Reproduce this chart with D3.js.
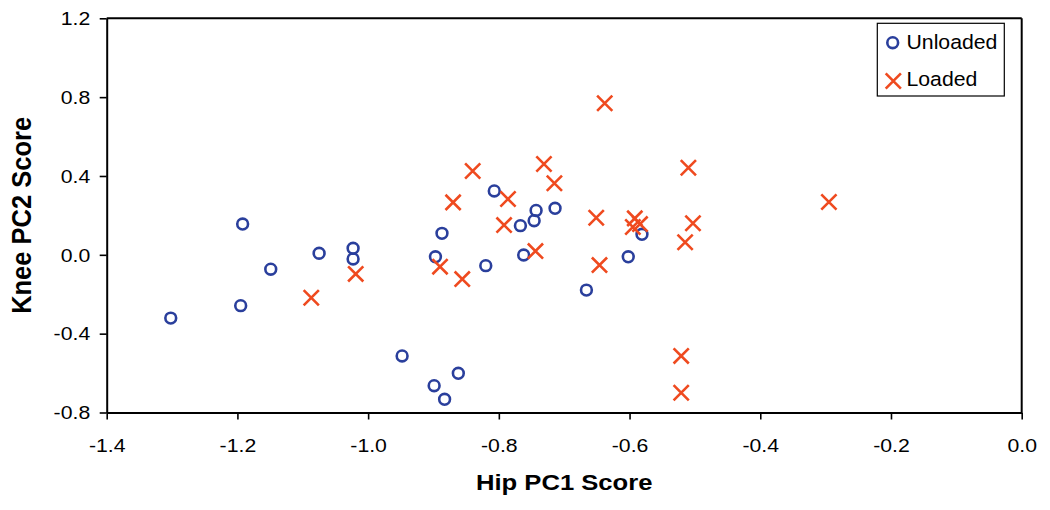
<!DOCTYPE html>
<html>
<head>
<meta charset="utf-8">
<script src="https://cdn.jsdelivr.net/npm/d3@7"></script>
<style>
  html, body { margin: 0; padding: 0; background: #fff; }
  svg text { font-family: "Liberation Sans", Arial, Helvetica, sans-serif; fill: #000; }
</style>
</head>
<body>
<svg id="chart" width="1050" height="510"></svg>
<script>
// ---- Data ----
const unloadedX = [-1.302, -1.195, -1.192, -1.149, -1.075, -1.023, -1.023, -0.948, -0.899, -0.883, -0.862, -0.897, -0.887, -0.820, -0.807, -0.767, -0.762, -0.746, -0.743, -0.714, -0.666, -0.602, -0.581];
const unloadedY = [-0.321, -0.258, 0.156, -0.073, 0.008, 0.033, -0.021, -0.513, -0.664, -0.733, -0.601, -0.010, 0.109, -0.055, 0.324, 0.148, -0.001, 0.173, 0.225, 0.236, -0.179, -0.010, 0.104];
const loadedX = [-1.087, -1.019, -0.890, -0.856, -0.744, -0.646, -0.521, -0.521, -0.638, -0.840, -0.731, -0.715, -0.510, -0.870, -0.786, -0.792, -0.651, -0.592, -0.584, -0.595, -0.503, -0.515, -0.295];
const loadedY = [-0.218, -0.097, -0.060, -0.123, 0.019, -0.052, -0.513, -0.700, 0.769, 0.425, 0.461, 0.363, 0.442, 0.266, 0.283, 0.151, 0.188, 0.185, 0.156, 0.141, 0.160, 0.064, 0.268];
const xTicks = [-1.4, -1.2, -1.0, -0.8, -0.6, -0.4, -0.2, 0.0];
const yTicks = [-0.8, -0.4, 0.0, 0.4, 0.8, 1.2];
const seriesNames = ["Unloaded", "Loaded"];
const xTitle = "Hip PC1 Score";
const yTitle = "Knee PC2 Score";

// ---- Layout ----
const margin = { left: 106.7, top: 18.3, right: 1050 - 1021.7, bottom: 510 - 412.5 };
const W = 1050 - margin.left - margin.right;
const H = 510 - margin.top - margin.bottom;
const blue = "#2a3f9c";
const red = "#ef4a1f";
const stretch = 1.18;

const svg = d3.select("#chart");
const g = svg.append("g").attr("transform", `translate(${margin.left},${margin.top})`);

const x = d3.scaleLinear().domain([-1.4, 0.0]).range([0, W]);
const y = d3.scaleLinear().domain([-0.8, 1.2]).range([H, 0]);

// frame (top & right lines)
g.append("line").attr("x1", 0).attr("x2", W).attr("y1", 0).attr("y2", 0)
  .attr("stroke", "#000").attr("stroke-width", 2);
g.append("line").attr("x1", W).attr("x2", W).attr("y1", 0).attr("y2", H)
  .attr("stroke", "#000").attr("stroke-width", 2);

// axes
const xAxis = g.append("g").attr("transform", `translate(0,${H})`)
  .call(d3.axisBottom(x).tickValues(xTicks).tickSize(7).tickSizeOuter(0).tickFormat(d3.format(".1f")));
const yAxis = g.append("g")
  .call(d3.axisLeft(y).tickValues(yTicks).tickSize(7).tickSizeOuter(0).tickFormat(d3.format(".1f")));

[xAxis, yAxis].forEach(a => {
  a.select(".domain").attr("stroke", "#000").attr("stroke-width", 2);
  a.selectAll(".tick line").attr("stroke", "#000").attr("stroke-width", 1.6);
  a.selectAll(".tick text").attr("font-size", 18).attr("fill", "#000")
    .style("font-family", '"Liberation Sans", Arial, sans-serif');
});
// minus sign as hyphen like original and horizontal stretch
xAxis.selectAll(".tick text")
  .text(d => d3.format(".1f")(d).replace("−", "-"))
  .attr("y", 0).attr("dy", 0)
  .attr("transform", `translate(0,39.5) scale(${stretch},1)`);
yAxis.selectAll(".tick text")
  .text(d => d3.format(".1f")(d).replace("−", "-"))
  .attr("x", 0).attr("dy", 0)
  .attr("transform", `translate(-16.5,6.3) scale(${stretch},1)`);

// axis titles
svg.append("text")
  .attr("transform", `translate(${margin.left + W / 2},490) scale(1.15,1)`)
  .attr("text-anchor", "middle").attr("font-weight", "bold").attr("font-size", 22.3)
  .text(xTitle);
svg.append("text")
  .attr("transform", `translate(31,${margin.top + H / 2}) scale(1.12,1) rotate(-90)`)
  .attr("text-anchor", "middle").attr("font-weight", "bold").attr("font-size", 25.5)
  .text(yTitle);

// points
const unloaded = unloadedX.map((v, i) => ({ x: v, y: unloadedY[i] }));
const loaded = loadedX.map((v, i) => ({ x: v, y: loadedY[i] }));

g.append("g").selectAll("circle").data(unloaded).join("circle")
  .attr("cx", d => x(d.x)).attr("cy", d => y(d.y)).attr("r", 5.4)
  .attr("fill", "none").attr("stroke", blue).attr("stroke-width", 2.6);

const s = 7.6;
const crossPath = `M${-s},${-s}L${s},${s}M${-s},${s}L${s},${-s}`;
g.append("g").selectAll("path").data(loaded).join("path")
  .attr("transform", d => `translate(${x(d.x)},${y(d.y)})`)
  .attr("d", crossPath)
  .attr("fill", "none").attr("stroke", red).attr("stroke-width", 2.6);

// legend
const lg = svg.append("g");
lg.append("rect").attr("x", 877.3).attr("y", 23.3).attr("width", 127).attr("height", 72.7)
  .attr("fill", "#fff").attr("stroke", "#000").attr("stroke-width", 1.2);
lg.append("circle").attr("cx", 892.7).attr("cy", 42.7).attr("r", 5.4)
  .attr("fill", "none").attr("stroke", blue).attr("stroke-width", 2.6);
lg.append("path").attr("transform", "translate(893.3,81)").attr("d", crossPath)
  .attr("fill", "none").attr("stroke", red).attr("stroke-width", 2.6);
lg.append("text").attr("transform", "translate(906.5,48.5) scale(1.09,1)")
  .attr("font-size", 19.5).text(seriesNames[0]);
lg.append("text").attr("transform", "translate(906.5,85.5) scale(1.09,1)")
  .attr("font-size", 19.5).text(seriesNames[1]);
</script>
</body>
</html>
